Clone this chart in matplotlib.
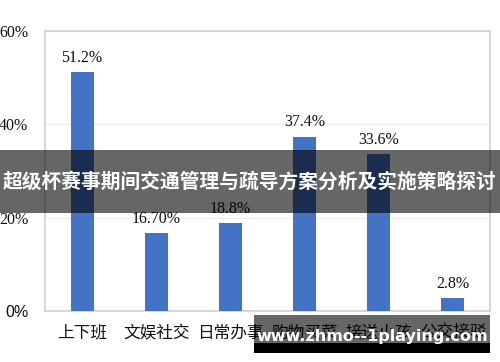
import numpy as np
import matplotlib.pyplot as plt
from matplotlib.patches import Rectangle

plt.rcParams['font.family'] = ['Noto Sans CJK SC', 'DejaVu Sans']

categories = ['上下班', '文娱社交', '日常办事', '购物买菜', '接送小孩', '公交接驳']
values = [51.2, 16.7, 18.8, 37.4, 33.6, 2.8]
value_labels = ['51.2%', '16.70%', '18.8%', '37.4%', '33.6%', '2.8%']
yticks = [0, 20, 40, 60]
ytick_labels = ['0%', '20%', '40%', '60%']
banner_title = '超级杯赛事期间交通管理与疏导方案分析及实施策略探讨'
watermark = 'www.zhmo--1playing.com'

fig = plt.figure(figsize=(5, 3.62), dpi=100)
ax = fig.add_axes([0.09, 0.141, 0.89, 0.773])

x = np.arange(len(categories))
ax.bar(x, values, width=0.31, color='#4472C4', zorder=3)
for xi, v, lab in zip(x, values, value_labels):
    ax.annotate(lab, (xi, v), xytext=(0, 4.5), textcoords='offset points',
                ha='center', va='bottom', fontsize=11.5,
                family='Liberation Serif', color='#111111')

ax.set_xlim(-0.5, len(categories) - 0.5)
ax.set_ylim(0, 60)
ax.set_yticks(yticks)
ax.set_yticklabels(ytick_labels)
for t, lab in zip(ax.get_yticklabels(), ytick_labels):
    t.set_fontsize(11.5)
    t.set_family('Liberation Sans' if lab == '0%' else 'Liberation Serif')
ax.set_xticks(x)
ax.set_xticklabels(categories, fontsize=12)
ax.tick_params(axis='both', length=0, colors='#111111')
ax.tick_params(axis='y', pad=12)
ax.tick_params(axis='x', pad=10)
ax.grid(axis='y', color='#eeeeee', linewidth=1, zorder=0)
for s in ax.spines.values():
    s.set_color('#d0d0d0')
    s.set_linewidth(1.2)

# banner over the middle
fig.patches.append(Rectangle((0, 1 - 213 / 362), 1, 63 / 362, transform=fig.transFigure,
                             facecolor='black', alpha=0.6, zorder=10))
fig.text(0.5, 1 - 182 / 362, banner_title, ha='center', va='center', color='white',
         fontsize=14.2, fontweight='bold', zorder=11)

# watermark box at the bottom right
fig.patches.append(Rectangle((254 / 500, 1 - 343 / 362), 236 / 500, 28 / 362, transform=fig.transFigure,
                             facecolor='black', alpha=0.6, zorder=10))
fig.patches.append(Rectangle((254 / 500, 1 - 353 / 362), 236 / 500, 10 / 362, transform=fig.transFigure,
                             facecolor='black', zorder=10))
fig.text(372 / 500, 1 - 337 / 362, watermark, ha='center', va='center', color='white',
         fontsize=11.5, fontweight='bold', family='DejaVu Sans', zorder=11)

fig.savefig('out.png', dpi=100)
